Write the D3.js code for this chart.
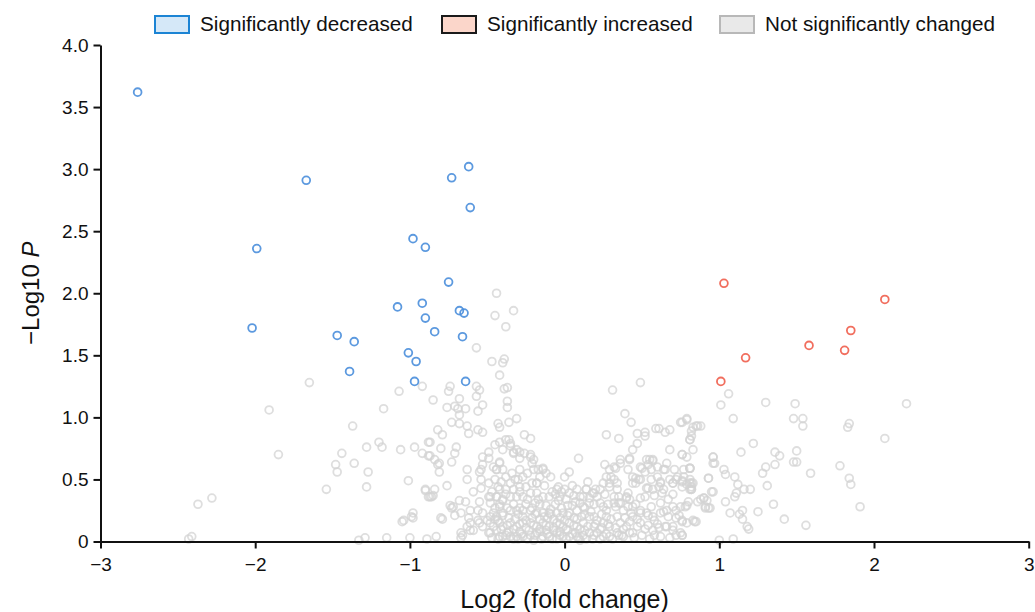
<!DOCTYPE html>
<html>
<head>
<meta charset="utf-8">
<script src="https://cdn.jsdelivr.net/npm/d3@7"></script>
<style>
  body { margin: 0; background: #fff; }
  svg { display: block; font-family: "Liberation Sans", Arial, sans-serif; }
</style>
</head>
<body>
<svg id="chart" width="1035" height="612"></svg>
<script>
// log2 fold change / -log10 p
var decreased = [
    [-2.76, 3.62], [-1.67, 2.91], [-1.99, 2.36], [-2.02, 1.72], [-1.47, 1.66], [-1.36, 1.61],
    [-1.39, 1.37], [-0.98, 2.44], [-0.90, 2.37], [-0.73, 2.93], [-0.62, 3.02], [-0.61, 2.69],
    [-0.75, 2.09], [-1.08, 1.89], [-0.92, 1.92], [-0.90, 1.80], [-0.84, 1.69], [-0.68, 1.86],
    [-0.65, 1.84], [-0.66, 1.65], [-1.01, 1.52], [-0.96, 1.45], [-0.97, 1.29], [-0.64, 1.29]
];

var increased = [
    [1.03, 2.08], [2.07, 1.95], [1.85, 1.70], [1.58, 1.58], [1.81, 1.54], [1.17, 1.48], [1.01, 1.29]
];

var unchanged = [
    // left, sparse
    [-2.43, 0.02], [-2.41, 0.04], [-2.37, 0.30], [-2.28, 0.35], [-1.91, 1.06], [-1.85, 0.70],
    [-1.65, 1.28], [-1.07, 1.21], [-0.92, 1.25], [-1.17, 1.07], [-1.37, 0.93], [-1.20, 0.80],
    [-1.18, 0.76], [-1.28, 0.76], [-1.44, 0.71], [-1.36, 0.63], [-1.48, 0.62], [-1.47, 0.56],
    [-1.27, 0.56], [-1.54, 0.42], [-1.28, 0.44], [-1.06, 0.74], [-0.97, 0.76], [-0.92, 0.71],
    [-0.88, 0.69], [-0.88, 0.80], [-1.01, 0.49], [-0.90, 0.41], [-0.88, 0.36], [-1.05, 0.16],
    [-0.98, 0.23], [-0.98, 0.19], [-1.00, 0.03], [-1.15, 0.03], [-1.29, 0.03], [-1.33, 0.01],
    [-0.89, 0.02],
    // upper middle
    [-0.44, 2.00], [-0.45, 1.82], [-0.38, 1.73], [-0.57, 1.56], [-0.47, 1.45], [-0.39, 1.47],
    [-0.40, 1.44], [-0.42, 1.34], [-0.39, 1.23], [-0.37, 1.24], [-0.57, 1.25], [-0.55, 1.22],
    [-0.57, 1.17], [-0.74, 1.25], [-0.75, 1.21], [-0.85, 1.14], [-0.68, 1.15], [-0.76, 1.08],
    [-0.64, 1.07], [-0.53, 1.10], [-0.33, 1.86],
    [-0.37, 1.13], [-0.37, 1.08], [-0.31, 0.99], [-0.43, 0.95], [-0.42, 0.92], [-0.36, 0.96],
    [-0.26, 0.86], [-0.22, 0.83], [0.09, 0.67], [0.31, 1.22], [0.49, 1.28], [0.39, 1.03],
    [0.43, 0.96], [0.27, 0.86], [0.35, 0.83], [0.47, 0.87], [0.47, 0.79], [0.52, 0.88],
    [0.52, 0.85], [0.59, 0.91], [0.61, 0.91], [0.65, 0.88], [0.68, 0.90], [0.75, 0.96],
    [0.79, 0.99], [0.85, 0.93], [0.82, 0.89], [0.81, 0.82], [0.76, 0.70], [0.81, 0.59],
    // middle left
    [-0.69, 1.07], [-0.71, 1.09], [-0.68, 1.02], [-0.56, 1.05], [-0.73, 0.96], [-0.68, 0.95],
    [-0.63, 0.93], [-0.62, 0.87], [-0.56, 0.90], [-0.53, 0.88], [-0.82, 0.90], [-0.79, 0.86],
    [-0.87, 0.80], [-0.80, 0.75], [-0.70, 0.76], [-0.71, 0.71], [-0.73, 0.64], [-0.84, 0.66],
    [-0.82, 0.62], [-0.81, 0.56], [-0.63, 0.58], [-0.63, 0.50], [-0.86, 0.36], [-0.76, 0.45],
    [-0.54, 0.43], [-0.49, 0.36], [-0.74, 0.29], [-0.72, 0.28], [-0.68, 0.33], [-0.64, 0.32],
    [-0.55, 0.32], [-0.56, 0.25], [-0.62, 0.19], [-0.59, 0.09], [-0.61, 0.15], [-0.79, 0.18],
    [-0.99, 0.20], [-1.04, 0.17], [-0.66, 0.05], [-0.67, 0.03], [-0.83, 0.04],
    [-0.87, 0.69], [-0.81, 0.63], [-0.90, 0.42], [-0.84, 0.42], [-0.87, 0.36], [-0.85, 0.37],
    [-0.73, 0.27], [-0.71, 0.21], [-0.67, 0.23], [-0.61, 0.25], [-0.48, 0.36], [-0.59, 0.40],
    [-0.55, 0.56], [-0.53, 0.62], [-0.49, 0.72], [-0.45, 0.78], [-0.53, 0.68], [-0.49, 0.67],
    [-0.42, 0.64], [-0.44, 0.58], [-0.45, 0.50], [-0.43, 0.44], [-0.44, 0.36], [-0.40, 0.33],
    [-0.42, 0.28], [-0.46, 0.23], [-0.43, 0.17], [-0.80, 0.19], [-0.63, 0.12], [-0.61, 0.09],
    [-0.67, 0.07], [-0.55, 0.15], [-0.50, 0.17], [-0.48, 0.20], [-0.48, 0.07], [-0.42, 0.04],
    [-0.37, 0.07],
    // dense core
    [-0.42, 0.80], [-0.40, 0.74], [-0.36, 0.82], [-0.35, 0.77], [-0.33, 0.71], [-0.31, 0.74],
    [-0.29, 0.67], [-0.26, 0.71], [-0.22, 0.68], [-0.21, 0.63], [-0.42, 0.63], [-0.44, 0.58],
    [-0.46, 0.60], [-0.40, 0.58], [-0.38, 0.52], [-0.34, 0.55], [-0.32, 0.50], [-0.29, 0.58],
    [-0.27, 0.52], [-0.24, 0.55], [-0.20, 0.58], [-0.17, 0.58], [-0.14, 0.58], [-0.12, 0.55],
    [-0.16, 0.52], [-0.18, 0.47], [-0.21, 0.47], [-0.25, 0.44], [-0.29, 0.44], [-0.33, 0.42],
    [-0.38, 0.42], [-0.42, 0.42], [-0.44, 0.36], [-0.40, 0.34], [-0.35, 0.36], [-0.31, 0.36],
    [-0.27, 0.36], [-0.22, 0.39], [-0.18, 0.39], [-0.14, 0.36], [-0.10, 0.36], [-0.05, 0.42],
    [-0.03, 0.36], [0.01, 0.34], [0.03, 0.39], [0.00, 0.52], [0.03, 0.56], [0.08, 0.42],
    [0.12, 0.36], [0.14, 0.42], [0.18, 0.39], [0.21, 0.36], [0.23, 0.31], [0.27, 0.25],
    [0.32, 0.31], [0.25, 0.47], [0.27, 0.52], [0.29, 0.47], [0.32, 0.50], [0.34, 0.42],
    [0.32, 0.36], [0.23, 0.42], [0.16, 0.31], [0.12, 0.28], [0.08, 0.25], [0.03, 0.23],
    [-0.01, 0.23], [-0.05, 0.23], [-0.10, 0.23], [-0.14, 0.23], [-0.18, 0.23], [-0.22, 0.25],
    [-0.27, 0.25], [-0.31, 0.25], [-0.35, 0.25], [-0.40, 0.23], [-0.44, 0.20], [-0.48, 0.15],
    [-0.44, 0.09], [-0.40, 0.12], [-0.35, 0.15], [-0.31, 0.12], [-0.27, 0.15], [-0.22, 0.15],
    [-0.18, 0.12], [-0.14, 0.15], [-0.10, 0.12], [-0.05, 0.15], [-0.01, 0.12], [0.03, 0.15],
    [0.08, 0.12], [0.12, 0.15], [0.16, 0.20], [0.21, 0.17], [0.25, 0.15], [0.29, 0.12],
    [0.34, 0.20], [0.36, 0.15], [-0.05, 0.07], [-0.10, 0.04], [-0.14, 0.04], [-0.18, 0.07],
    [-0.22, 0.05], [-0.27, 0.04], [-0.31, 0.04], [-0.35, 0.04], [-0.40, 0.04], [-0.01, 0.04],
    [0.03, 0.04], [0.08, 0.04], [0.12, 0.05], [0.16, 0.07], [0.21, 0.07], [0.25, 0.04],
    [0.29, 0.04], [0.34, 0.07], [-0.54, 0.58], [-0.54, 0.50], [-0.49, 0.47], [-0.48, 0.31],
    [-0.53, 0.23], [-0.56, 0.17], [-0.53, 0.12], [-0.49, 0.07],
    [-0.25, 0.30], [-0.19, 0.31], [-0.12, 0.29], [-0.06, 0.30], [-0.02, 0.27], [0.05, 0.29],
    [0.10, 0.31], [-0.32, 0.18], [-0.27, 0.20], [-0.21, 0.19], [-0.16, 0.18], [-0.11, 0.19],
    [-0.07, 0.18], [0.00, 0.17], [0.06, 0.19], [0.11, 0.20], [0.17, 0.24], [0.19, 0.12],
    [-0.36, 0.08], [-0.29, 0.08], [-0.23, 0.09], [-0.16, 0.08], [-0.12, 0.09], [-0.07, 0.09],
    [-0.03, 0.08], [0.02, 0.09], [0.07, 0.07], [0.13, 0.09], [0.18, 0.02], [0.23, 0.10],
    [0.27, 0.20], [-0.45, 0.27], [-0.41, 0.48], [-0.35, 0.47], [-0.30, 0.50], [-0.42, 0.15],
    [-0.13, 0.45], [-0.08, 0.40], [0.05, 0.45], [0.15, 0.48], [0.20, 0.42], [0.10, 0.01],
    [-0.05, 0.02], [-0.20, 0.01], [-0.30, 0.02], [0.28, 0.30], [0.33, 0.28], [0.38, 0.25],
    [0.40, 0.35], [0.38, 0.10],
    [-0.38, 0.82], [-0.35, 0.79], [-0.33, 0.72], [-0.29, 0.72], [-0.22, 0.70], [-0.20, 0.66],
    [0.26, 0.62], [0.29, 0.58], [0.30, 0.52], [0.29, 0.44], [0.34, 0.47], [0.14, 0.42],
    [0.10, 0.36], [0.19, 0.39], [-0.04, 0.44], [-0.02, 0.40], [0.00, 0.42], [-0.14, 0.59],
    [-0.09, 0.52], [-0.18, 0.47],
    [-0.47, 0.03], [-0.43, 0.02], [-0.38, 0.05], [-0.33, 0.02], [-0.28, 0.06], [-0.24, 0.02],
    [-0.19, 0.05], [-0.15, 0.02], [-0.11, 0.06], [-0.08, 0.02], [-0.03, 0.05], [0.01, 0.02],
    [0.05, 0.06], [0.09, 0.03], [0.14, 0.02], [0.19, 0.05], [0.23, 0.02], [0.27, 0.06],
    [0.31, 0.02], [0.35, 0.05], [0.45, 0.03], [0.50, 0.05], [0.55, 0.02], [0.62, 0.04],
    [0.68, 0.03], [0.72, 0.05],
    [-0.46, 0.12], [-0.41, 0.10], [-0.37, 0.13], [-0.33, 0.10], [-0.29, 0.14], [-0.25, 0.11],
    [-0.20, 0.13], [-0.16, 0.10], [-0.12, 0.13], [-0.07, 0.11], [-0.03, 0.14], [0.01, 0.10],
    [0.06, 0.13], [0.10, 0.10], [0.15, 0.12], [0.20, 0.14], [0.24, 0.11], [0.28, 0.14],
    [0.33, 0.11], [0.52, 0.10], [0.60, 0.14], [0.70, 0.12],
    [-0.45, 0.18], [-0.40, 0.21], [-0.36, 0.19], [-0.30, 0.22], [-0.25, 0.17], [-0.19, 0.22],
    [-0.13, 0.20], [-0.09, 0.22], [-0.03, 0.19], [0.02, 0.21], [0.08, 0.18], [0.13, 0.22],
    [0.19, 0.20], [0.24, 0.22], [0.30, 0.18], [0.39, 0.19], [0.47, 0.18], [0.58, 0.17],
    [0.72, 0.19],
    [-0.42, 0.30], [-0.37, 0.27], [-0.33, 0.30], [-0.29, 0.27], [-0.21, 0.27], [-0.16, 0.30],
    [-0.09, 0.26], [-0.04, 0.33], [0.02, 0.29], [0.07, 0.32], [0.13, 0.27], [0.19, 0.30],
    [0.25, 0.28], [0.46, 0.30], [0.56, 0.28], [0.62, 0.31], [0.72, 0.25],
    [-0.47, 0.40], [-0.38, 0.38], [-0.29, 0.40], [-0.24, 0.34], [-0.17, 0.34], [-0.06, 0.38],
    [0.06, 0.37], [0.16, 0.35], [0.26, 0.38], [0.58, 0.37], [0.70, 0.38],
    // right of centre
    [0.42, 0.66], [0.49, 0.60], [0.53, 0.66], [0.57, 0.66], [0.60, 0.60], [0.64, 0.58],
    [0.66, 0.63], [0.56, 0.50], [0.49, 0.50], [0.44, 0.52], [0.46, 0.47], [0.53, 0.43],
    [0.57, 0.42], [0.62, 0.47], [0.64, 0.42], [0.70, 0.47], [0.72, 0.50], [0.77, 0.52],
    [0.81, 0.50], [0.83, 0.47], [0.81, 0.42], [0.77, 0.58], [0.79, 0.68], [0.83, 0.74],
    [0.88, 0.34], [0.70, 0.28], [0.66, 0.25], [0.62, 0.23], [0.57, 0.20], [0.53, 0.23],
    [0.49, 0.25], [0.44, 0.28], [0.42, 0.34], [0.40, 0.36], [0.36, 0.31], [0.44, 0.20],
    [0.49, 0.15], [0.57, 0.09], [0.66, 0.12], [0.70, 0.09], [0.75, 0.07], [0.79, 0.15],
    [0.83, 0.17], [0.40, 0.12], [0.44, 0.07], [0.38, 0.04], [0.68, 0.74], [0.44, 0.74],
    [0.36, 0.63], [0.41, 0.58], [0.32, 0.60],
    [0.33, 0.59], [0.36, 0.66], [0.42, 0.67], [0.55, 0.66], [0.57, 0.65], [0.54, 0.62],
    [0.50, 0.59], [0.52, 0.56], [0.56, 0.58], [0.65, 0.58], [0.71, 0.58], [0.73, 0.52],
    [0.81, 0.59], [0.46, 0.51], [0.48, 0.50], [0.44, 0.47], [0.60, 0.52], [0.62, 0.48],
    [0.68, 0.50], [0.70, 0.47], [0.76, 0.49], [0.79, 0.46], [0.82, 0.47], [0.82, 0.42],
    [0.93, 0.51], [0.96, 0.68], [0.96, 0.63], [0.95, 0.40], [0.54, 0.43], [0.61, 0.44],
    [0.63, 0.39], [0.41, 0.39], [0.35, 0.36], [0.35, 0.31], [0.49, 0.35], [0.52, 0.36],
    [0.67, 0.34], [0.75, 0.28], [0.79, 0.29], [0.86, 0.32], [0.90, 0.35], [0.91, 0.28],
    [0.93, 0.27], [0.41, 0.28], [0.43, 0.23], [0.49, 0.23], [0.54, 0.21], [0.64, 0.24],
    [0.67, 0.20], [0.74, 0.21], [0.76, 0.16], [0.84, 0.16], [0.42, 0.16], [0.47, 0.12],
    [0.54, 0.13], [0.61, 0.11], [0.65, 0.12], [0.58, 0.05], [0.76, 0.05], [0.37, 0.05],
    [0.42, 0.07],
    // right, sparse
    [1.06, 1.19], [1.01, 1.10], [1.30, 1.12], [1.49, 1.11], [2.21, 1.11], [1.09, 0.99],
    [1.48, 0.99], [1.54, 0.99], [1.54, 0.93], [1.84, 0.95], [1.83, 0.92], [2.07, 0.83],
    [1.22, 0.79], [1.14, 0.72], [1.36, 0.72], [1.39, 0.69], [1.36, 0.62], [1.50, 0.73],
    [1.50, 0.64], [1.48, 0.64], [1.30, 0.60], [1.28, 0.55], [1.31, 0.45], [1.59, 0.55],
    [1.78, 0.61], [1.84, 0.51], [1.85, 0.46], [1.91, 0.28], [1.56, 0.13], [1.42, 0.18],
    [1.35, 0.30], [1.25, 0.24], [1.15, 0.25], [1.13, 0.22], [1.15, 0.18], [1.18, 0.12],
    [1.19, 0.10], [1.07, 0.23], [1.04, 0.32], [1.10, 0.52], [1.12, 0.46], [1.11, 0.39],
    [1.10, 0.36], [1.16, 0.42], [1.20, 0.42], [1.03, 0.58], [1.04, 0.54], [0.93, 0.51],
    [0.96, 0.40], [0.96, 0.68], [0.97, 0.63], [0.81, 0.59], [0.76, 0.70], [0.79, 0.98],
    [0.76, 0.96], [0.83, 0.92], [0.86, 0.93], [0.88, 0.93], [0.82, 0.85], [0.81, 0.82],
    [0.81, 0.47], [0.82, 0.44], [0.82, 0.42], [0.76, 0.48], [0.76, 0.44], [0.90, 0.35],
    [0.92, 0.33], [0.91, 0.27], [0.94, 0.27], [0.80, 0.32], [0.78, 0.28], [0.85, 0.16],
    [0.76, 0.17], [0.76, 0.05], [1.00, 0.01], [1.09, 0.02]
];

var xTicks = [-3, -2, -1, 0, 1, 2, 3];
var yTicks = [0, 0.5, 1.0, 1.5, 2.0, 2.5, 3.0, 3.5, 4.0];
var legendLabels = ['Significantly decreased', 'Significantly increased', 'Not significantly changed'];

var svg = d3.select('#chart');
var margin = {left: 100.5, right: 6.3, top: 45, bottom: 70.5};
var width = 1035 - margin.left - margin.right;
var height = 612 - margin.top - margin.bottom;

var x = d3.scaleLinear().domain([-3, 3]).range([0, width]);
var y = d3.scaleLinear().domain([0, 4]).range([height, 0]);

var g = svg.append('g')
    .attr('transform', 'translate(' + margin.left + ',' + margin.top + ')');

function drawPoints(data, color, opacity) {
    g.append('g')
        .selectAll('circle')
        .data(data)
        .enter()
        .append('circle')
        .attr('cx', function (d) { return x(d[0]); })
        .attr('cy', function (d) { return y(d[1]); })
        .attr('r', 3.9)
        .style('fill', 'none')
        .style('stroke', color)
        .style('stroke-width', 1.8)
        .style('stroke-opacity', opacity);
}

drawPoints(unchanged, '#d3d3d3', 0.75);
drawPoints(decreased, '#4a8edb', 0.9);
drawPoints(increased, '#ef5e4c', 0.9);

// axes
var xAxis = g.append('g')
    .attr('transform', 'translate(0,' + height + ')')
    .call(d3.axisBottom(x).tickValues(xTicks).tickSize(7).tickSizeOuter(0)
        .tickFormat(function (d) { return d < 0 ? '\u2212' + Math.abs(d) : d; }));

var yAxis = g.append('g')
    .call(d3.axisLeft(y).tickValues(yTicks).tickSize(7).tickSizeOuter(0)
        .tickFormat(function (d) { return d === 0 ? '0' : d3.format('.1f')(d); }));

[xAxis, yAxis].forEach(function (ax) {
    ax.select('.domain').style('stroke', '#111').style('stroke-width', 2);
    ax.selectAll('.tick line').style('stroke', '#111').style('stroke-width', 2);
    ax.selectAll('.tick text')
        .style('font-size', '19px')
        .style('fill', '#111')
        .style('font-family', '"Liberation Sans", Arial, sans-serif');
});
xAxis.selectAll('.tick text').attr('dy', '1.05em');
yAxis.selectAll('.tick text').attr('x', -12);

// axis titles
svg.append('text')
    .attr('x', margin.left + x(0))
    .attr('y', 608)
    .attr('text-anchor', 'middle')
    .style('font-size', '25px')
    .style('fill', '#111')
    .text('Log2 (fold change)');

var yTitle = svg.append('text')
    .attr('transform', 'translate(39,' + (margin.top + y(2.0)) + ') rotate(-90)')
    .attr('text-anchor', 'middle')
    .style('font-size', '24px')
    .style('fill', '#111');
yTitle.append('tspan').text('\u2212Log10 ');
yTitle.append('tspan').style('font-style', 'italic').text('P');

// legend
var legendX = [155, 442, 720];
var legendFill = ['#d5e8f8', '#fbd6ca', '#e9e9e9'];
var legendStroke = ['#1c84d4', '#1a1a1a', '#b8b8b8'];
var legend = svg.append('g');
legendLabels.forEach(function (label, i) {
    legend.append('rect')
        .attr('x', legendX[i])
        .attr('y', 16)
        .attr('width', 34)
        .attr('height', 17)
        .style('fill', legendFill[i])
        .style('stroke', legendStroke[i])
        .style('stroke-width', 2);
    legend.append('text')
        .attr('x', legendX[i] + 45)
        .attr('y', 31)
        .style('font-size', '20.7px')
        .style('fill', '#111')
        .text(label);
});
</script>
</body>
</html>
